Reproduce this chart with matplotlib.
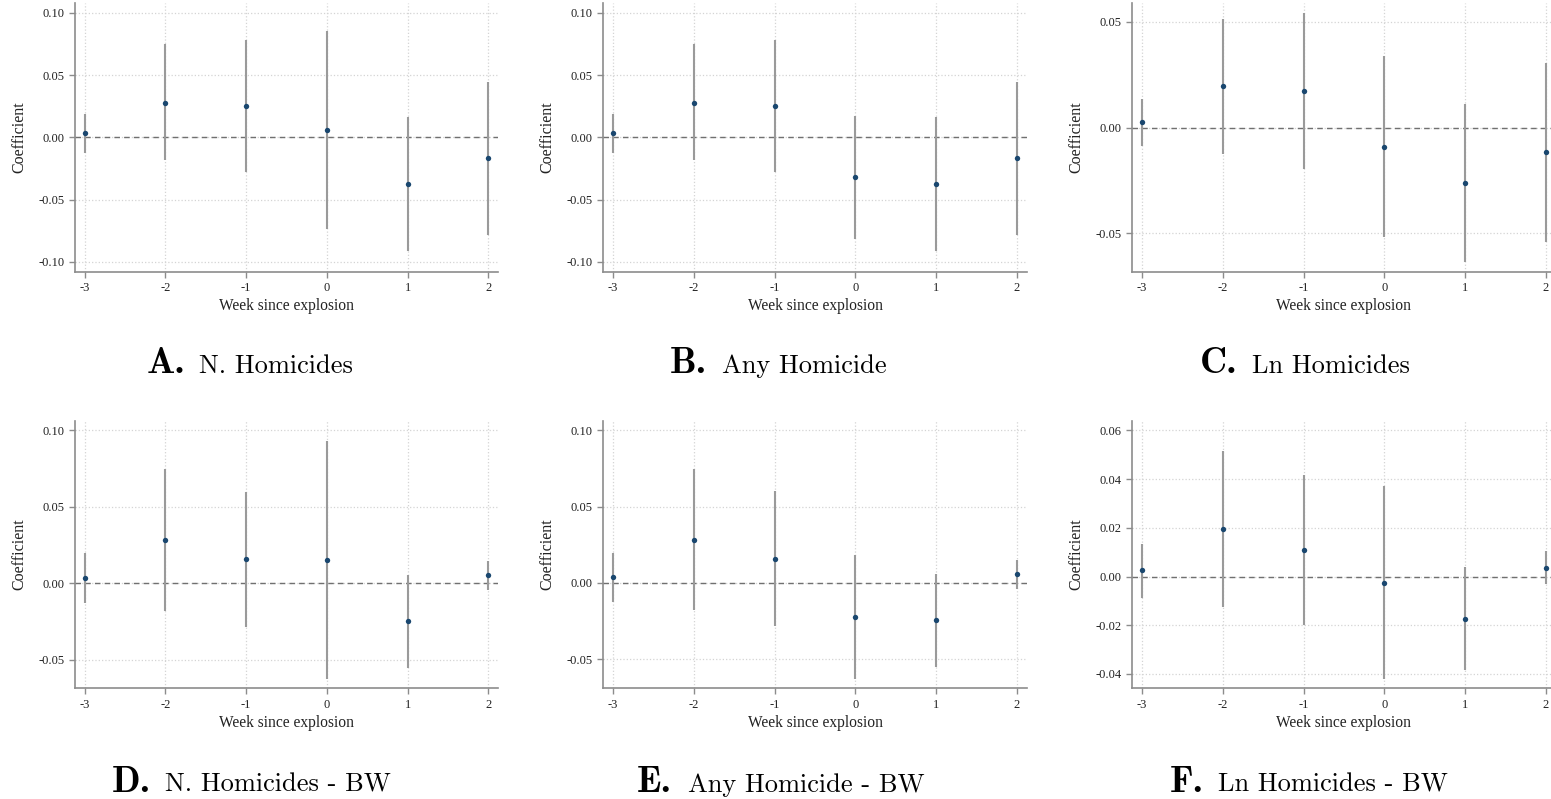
import matplotlib
matplotlib.use("Agg")
import matplotlib.pyplot as plt

plt.rcParams['font.family'] = ['Liberation Serif', 'DejaVu Serif']
plt.rcParams['axes.unicode_minus'] = False

# event-study estimates
weeks = [-3, -2, -1, 0, 1, 2]

coef_a = [0.0035, 0.0280, 0.0250, 0.0059, -0.0379, -0.0169]
lo_a = [-0.0126, -0.0185, -0.0282, -0.0739, -0.0917, -0.0782]
hi_a = [0.0190, 0.0747, 0.0782, 0.0858, 0.0164, 0.0441]

coef_b = [0.0035, 0.0280, 0.0250, -0.0320, -0.0379, -0.0169]
lo_b = [-0.0126, -0.0185, -0.0282, -0.0815, -0.0917, -0.0782]
hi_b = [0.0190, 0.0747, 0.0782, 0.0169, 0.0164, 0.0441]

coef_c = [0.0024, 0.0195, 0.0174, -0.0090, -0.0263, -0.0117]
lo_c = [-0.0087, -0.0127, -0.0196, -0.0519, -0.0638, -0.0543]
hi_c = [0.0134, 0.0514, 0.0544, 0.0337, 0.0111, 0.0307]

coef_d = [0.0035, 0.0281, 0.0157, 0.0152, -0.0248, 0.0054]
lo_d = [-0.0126, -0.0183, -0.0287, -0.0623, -0.0553, -0.0044]
hi_d = [0.0196, 0.0745, 0.0599, 0.0932, 0.0054, 0.0146]

coef_e = [0.0035, 0.0282, 0.0157, -0.0225, -0.0247, 0.0055]
lo_e = [-0.0127, -0.0179, -0.0284, -0.0630, -0.0551, -0.0042]
hi_e = [0.0195, 0.0743, 0.0599, 0.0181, 0.0055, 0.0147]

coef_f = [0.0025, 0.0196, 0.0108, -0.0025, -0.0173, 0.0037]
lo_f = [-0.0088, -0.0126, -0.0200, -0.0420, -0.0385, -0.0030]
hi_f = [0.0134, 0.0516, 0.0415, 0.0371, 0.0040, 0.0104]

letters = ["A.", "B.", "C.", "D.", "E.", "F."]
titles = ["N. Homicides", "Any Homicide", "Ln Homicides",
          "N. Homicides - BW", "Any Homicide - BW", "Ln Homicides - BW"]

yticks_ab = [-0.10, -0.05, 0.00, 0.05, 0.10]
yticks_c = [-0.05, 0.00, 0.05]
yticks_de = [-0.05, 0.00, 0.05, 0.10]
yticks_f = [-0.04, -0.02, 0.00, 0.02, 0.04, 0.06]

W, H = 1551, 799
fig = plt.figure(figsize=(W / 100, H / 100), dpi=100)

# pixel boxes: left, top, right, bottom
boxes = [(75, 3, 498, 271.7), (603.3, 3, 1026.7, 271.7), (1132.3, 3, 1555.7, 271.7),
         (75, 420.7, 498, 688.3), (603.3, 420.7, 1026.7, 688.3), (1132.3, 420.7, 1555.7, 688.3)]
ylims = [(-0.108, 0.108), (-0.108, 0.108), (-0.0682, 0.0589),
         (-0.0685, 0.1063), (-0.0692, 0.1063), (-0.0459, 0.064)]
yticks = [yticks_ab, yticks_ab, yticks_c, yticks_de, yticks_de, yticks_f]
data = [(coef_a, lo_a, hi_a), (coef_b, lo_b, hi_b), (coef_c, lo_c, hi_c),
        (coef_d, lo_d, hi_d), (coef_e, lo_e, hi_e), (coef_f, lo_f, hi_f)]
# panel captions: bold letter x, text x, baseline y (pixels)
captions = [(146.7, 199.3, 373), (670, 722, 373), (1200, 1252, 373),
            (111.7, 165, 791.7), (636.7, 688, 791.7), (1170, 1218, 791.7)]

spine_col = '#8c8c8c'
for i in range(6):
    l, t, r, b = boxes[i]
    ax = fig.add_axes([l / W, 1 - b / H, (r - l) / W, (b - t) / H])
    coef, lo, hi = data[i]
    ax.vlines(weeks, lo, hi, color='#9a9a9a', lw=1.5, zorder=2)
    ax.scatter(weeks, coef, s=15, color='#1a476f', zorder=3, linewidths=0)
    ax.axhline(0, color='#707070', lw=1.0, ls=(0, (4, 3)), zorder=1)
    ax.set_xlim(-3.12, 2.12)
    ax.set_ylim(*ylims[i])
    ax.set_xticks(weeks)
    ax.set_xticklabels([str(w) for w in weeks])
    ax.set_yticks(yticks[i])
    ax.set_yticklabels(["%.2f" % v for v in yticks[i]])
    ax.grid(True, color='#d4d4d4', ls=':', lw=0.9)
    ax.set_axisbelow(True)
    for s in ['top', 'right']:
        ax.spines[s].set_visible(False)
    for s in ['left', 'bottom']:
        ax.spines[s].set_color(spine_col)
        ax.spines[s].set_linewidth(1.2)
    ax.tick_params(colors=spine_col, labelcolor='#222222', labelsize=9, length=4, width=1.0)
    ax.set_xlabel("Week since explosion", fontsize=11.2, color='#222222', labelpad=3)
    ax.set_ylabel("Coefficient", fontsize=11.5, color='#222222', labelpad=8)

    xb, xt, yb = captions[i]
    fig.text(xb / W, 1 - yb / H, letters[i], family='cmb10', fontsize=27,
             ha='left', va='baseline')
    fig.text(xt / W, 1 - yb / H, titles[i], family='cmr10', fontsize=19,
             ha='left', va='baseline')

fig.savefig("out.png", dpi=100)
